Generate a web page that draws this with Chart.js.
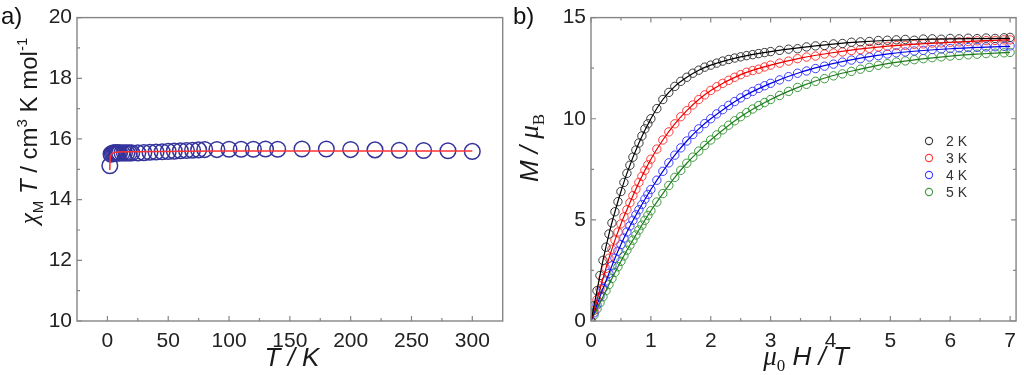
<!DOCTYPE html>
<html>
<head>
<meta charset="utf-8">
<script src="https://cdn.jsdelivr.net/npm/chart.js@4.4.1/dist/chart.umd.min.js"></script>
<style>
  html, body { margin: 0; padding: 0; background: #fff; }
  #wrap { position: relative; width: 1024px; height: 375px; }
  .panel { position: absolute; top: 0; width: 512px; height: 375px; }
</style>
</head>
<body>
<div id="wrap">
  <div class="panel" style="left:0"><canvas id="chartA" width="512" height="375"></canvas></div>
  <div class="panel" style="left:512px"><canvas id="chartB" width="512" height="375"></canvas></div>
</div>
<script>
// ---- panel a) : chiM*T vs T ----
const tempT = [2, 3, 4, 5, 6, 7, 8, 9, 10, 12, 14, 16, 18, 20, 25, 30, 35, 40, 45, 50, 55, 60, 65, 70, 75, 80,
  90, 100, 110, 120, 130, 140, 160, 180, 200, 220, 240, 260, 280, 300];
const chiT = [15.12, 15.50, 15.53, 15.54, 15.54, 15.54, 15.54, 15.54, 15.54, 15.54, 15.54, 15.54, 15.54, 15.54, 15.54, 15.55, 15.56, 15.57, 15.58, 15.59, 15.60, 15.61, 15.62, 15.63, 15.64, 15.65,
  15.65, 15.66, 15.66, 15.66, 15.67, 15.66, 15.67, 15.67, 15.65, 15.64, 15.63, 15.62, 15.61, 15.59];
const fitT = [2, 2.1, 2.3, 2.6, 3, 4, 5, 7, 10, 20, 50, 100, 150, 200, 250, 300];
const fitChi = [14.98, 15.2, 15.35, 15.43, 15.48, 15.52, 15.54, 15.56, 15.57, 15.58, 15.59, 15.6, 15.6, 15.6, 15.6, 15.6];
const xTicksA = [0, 50, 100, 150, 200, 250, 300];
const yTicksA = [10, 12, 14, 16, 18, 20];

// ---- panel b) : M vs mu0 H ----
const fieldH = [0, 0.05, 0.1, 0.15, 0.2, 0.25, 0.3, 0.35, 0.4, 0.45, 0.5, 0.55, 0.6, 0.65, 0.7, 0.75, 0.8, 0.85, 0.9, 0.95, 1.0,
  1.1, 1.2, 1.3, 1.4, 1.5, 1.6, 1.7, 1.8, 1.9, 2.0, 2.1, 2.2, 2.3, 2.4, 2.5, 2.6, 2.7, 2.8, 2.9, 3.0,
  3.15, 3.3, 3.45, 3.6, 3.75, 3.9, 4.05, 4.2, 4.35, 4.5, 4.65, 4.8, 4.95, 5.1, 5.25, 5.4, 5.55, 5.7, 5.85, 6.0,
  6.15, 6.3, 6.45, 6.6, 6.75, 6.9, 7.0];
const m2K = [0, 0.75, 1.5, 2.25, 3.0, 3.65, 4.3, 4.85, 5.4, 5.9, 6.4, 6.85, 7.3, 7.7, 8.1, 8.45, 8.8, 9.15, 9.5, 9.75, 10.0,
  10.5, 10.95, 11.3, 11.6, 11.85, 12.05, 12.25, 12.4, 12.55, 12.65, 12.75, 12.85, 12.93, 13.0, 13.06, 13.12, 13.17, 13.22, 13.27, 13.32,
  13.38, 13.44, 13.46, 13.55, 13.6, 13.62, 13.7, 13.72, 13.78, 13.8, 13.82, 13.87, 13.88, 13.9, 13.92, 13.88, 13.94, 13.95, 13.93, 13.97,
  13.95, 13.98, 13.96, 13.99, 13.97, 14.0, 14.02];
const m3K = [0, 0.52, 1.05, 1.58, 2.1, 2.6, 3.1, 3.55, 4.0, 4.4, 4.8, 5.15, 5.5, 5.85, 6.2, 6.52, 6.85, 7.15, 7.45, 7.72, 8.0,
  8.5, 8.95, 9.35, 9.75, 10.1, 10.4, 10.68, 10.95, 11.18, 11.4, 11.58, 11.75, 11.9, 12.05, 12.18, 12.3, 12.38, 12.45, 12.56, 12.65,
  12.75, 12.85, 12.97, 13.05, 13.1, 13.2, 13.25, 13.3, 13.37, 13.42, 13.48, 13.55, 13.58, 13.62, 13.63, 13.68, 13.7, 13.74, 13.75, 13.78,
  13.8, 13.82, 13.85, 13.86, 13.87, 13.9, 13.9];
const m4K = [0, 0.4, 0.8, 1.2, 1.6, 1.98, 2.35, 2.73, 3.1, 3.45, 3.78, 4.1, 4.4, 4.7, 4.98, 5.25, 5.5, 5.76, 6.02, 6.26, 6.5,
  6.96, 7.4, 7.82, 8.2, 8.56, 8.9, 9.22, 9.5, 9.76, 10.0, 10.24, 10.45, 10.66, 10.85, 11.03, 11.2, 11.35, 11.5, 11.63, 11.75,
  11.92, 12.08, 12.25, 12.36, 12.48, 12.6, 12.7, 12.8, 12.9, 12.97, 13.05, 13.12, 13.2, 13.26, 13.3, 13.35, 13.38, 13.42, 13.45, 13.47,
  13.5, 13.52, 13.53, 13.55, 13.56, 13.58, 13.6];
const m5K = [0, 0.3, 0.6, 0.9, 1.2, 1.5, 1.8, 2.1, 2.4, 2.68, 2.95, 3.22, 3.5, 3.75, 4.0, 4.25, 4.5, 4.74, 4.98, 5.22, 5.45,
  5.88, 6.3, 6.7, 7.1, 7.45, 7.8, 8.1, 8.4, 8.68, 8.95, 9.2, 9.45, 9.68, 9.9, 10.1, 10.3, 10.48, 10.65, 10.8, 10.95,
  11.15, 11.35, 11.55, 11.7, 11.85, 11.98, 12.12, 12.22, 12.34, 12.45, 12.54, 12.64, 12.72, 12.8, 12.86, 12.92, 12.97, 13.02, 13.06, 13.1,
  13.13, 13.16, 13.19, 13.22, 13.24, 13.26, 13.28];
const fitH = [0, 0.1, 0.2, 0.3, 0.4, 0.5, 0.6, 0.8, 1.0, 1.2, 1.4, 1.6, 1.8, 2.0, 2.5, 3.0, 3.5, 4.0, 4.5, 5.0, 5.5, 6.0, 6.5, 7.0];
const fit2K = [0, 1.5, 3.0, 4.3, 5.4, 6.4, 7.3, 8.8, 10.0, 10.95, 11.6, 12.05, 12.4, 12.65, 13.06, 13.32, 13.52, 13.68, 13.8, 13.88, 13.92, 13.95, 13.96, 13.97];
const fit3K = [0, 1.05, 2.1, 3.1, 4.0, 4.8, 5.5, 6.85, 8.0, 8.95, 9.75, 10.4, 10.95, 11.4, 12.18, 12.65, 13.0, 13.25, 13.45, 13.6, 13.7, 13.78, 13.85, 13.9];
const fit4K = [0, 0.8, 1.6, 2.35, 3.1, 3.78, 4.4, 5.5, 6.5, 7.4, 8.2, 8.9, 9.5, 10.0, 11.03, 11.75, 12.3, 12.7, 13.0, 13.22, 13.36, 13.46, 13.53, 13.58];
const fit5K = [0, 0.6, 1.2, 1.8, 2.4, 2.95, 3.5, 4.5, 5.45, 6.3, 7.1, 7.8, 8.4, 8.95, 10.1, 10.95, 11.6, 12.1, 12.45, 12.75, 12.95, 13.1, 13.2, 13.28];
const seriesLabels = ['2 K', '3 K', '4 K', '5 K'];
const xTicksB = [0, 1, 2, 3, 4, 5, 6, 7];
const yTicksB = [0, 5, 10, 15];

const pointColors = ['#3a3a3a', '#ff3c3c', '#4040ff', '#3f9a3f'];
const lineColors = ['#000000', '#e80000', '#0000e0', '#1d7a1d'];

const tickFont = { family: 'Liberation Sans', size: 21 };
const sans = '"Liberation Sans", Arial, sans-serif';
const serif = '"Liberation Serif", "Times New Roman", serif';

function pts(xs, ys) { return xs.map((v, i) => ({ x: v, y: ys[i] })); }

// frame box with inward ticks (major + minor) taken from the scales
function frameTicks(mirror) {
  return {
    id: 'frameTicks',
    afterDraw(chart) {
      const { ctx, chartArea: a, scales } = chart;
      const xv = scales.x.ticks.map(t => t.value);
      const yv = scales.y.ticks.map(t => t.value);
      const mids = v => v.slice(1).map((w, i) => (w + v[i]) / 2);
      ctx.save();
      ctx.strokeStyle = '#858585';
      ctx.lineWidth = 1.4;
      ctx.strokeRect(a.left, a.top, a.right - a.left, a.bottom - a.top);
      ctx.lineWidth = 1.2;
      ctx.beginPath();
      const xMark = (vals, len) => vals.forEach(v => {
        const px = scales.x.getPixelForValue(v);
        ctx.moveTo(px, a.bottom); ctx.lineTo(px, a.bottom - len);
        if (mirror) { ctx.moveTo(px, a.top); ctx.lineTo(px, a.top + len); }
      });
      const yMark = (vals, len) => vals.forEach(v => {
        const py = scales.y.getPixelForValue(v);
        ctx.moveTo(a.left, py); ctx.lineTo(a.left + len, py);
        if (mirror) { ctx.moveTo(a.right, py); ctx.lineTo(a.right - len, py); }
      });
      xMark(xv, 5); xMark(mids(xv), 3);
      yMark(yv, 5); yMark(mids(yv), 3);
      ctx.stroke();
      ctx.restore();
    }
  };
}

function drawRich(ctx, parts, cx, cy, rot) {
  ctx.save();
  ctx.translate(cx, cy);
  ctx.rotate(rot);
  ctx.fillStyle = '#1a1a1a';
  ctx.textBaseline = 'alphabetic';
  ctx.textAlign = 'left';
  let w = 0;
  parts.forEach(p => { ctx.font = p.font; w += ctx.measureText(p.t).width; });
  let x = -w / 2;
  parts.forEach(p => {
    ctx.font = p.font;
    ctx.fillText(p.t, x, p.dy || 0);
    x += ctx.measureText(p.t).width;
  });
  ctx.restore();
}

function decor(cfg) {
  return {
    id: 'decor',
    afterDraw(chart) {
      const ctx = chart.ctx;
      ctx.save();
      ctx.fillStyle = '#111';
      ctx.font = '24px ' + sans;
      ctx.textBaseline = 'alphabetic';
      ctx.fillText(cfg.label, cfg.labelX, 24);
      ctx.restore();
      drawRich(ctx, cfg.xTitle, cfg.xTitlePos[0], cfg.xTitlePos[1], 0);
      drawRich(ctx, cfg.yTitle, cfg.yTitlePos[0], cfg.yTitlePos[1], -Math.PI / 2);
      if (cfg.legend) {
        const l = cfg.legend;
        chart.data.datasets.filter(d => d.showInKey).forEach((d, i) => {
          const y = l.y + i * l.gap;
          ctx.save();
          ctx.strokeStyle = d.pointBorderColor;
          ctx.lineWidth = 1.1;
          ctx.beginPath();
          ctx.arc(l.x, y, 3.6, 0, Math.PI * 2);
          ctx.stroke();
          ctx.fillStyle = '#333';
          ctx.font = '14px ' + sans;
          ctx.textBaseline = 'middle';
          ctx.fillText(d.label, l.x + 17, y + 1);
          ctx.restore();
        });
      }
    }
  };
}

function axis(min, max, tickList, size, isX) {
  return {
    type: 'linear', min: min, max: max,
    afterBuildTicks: s => { s.ticks = tickList.map(v => ({ value: v })); },
    afterFit: s => { if (isX) s.height = size; else s.width = size; },
    grid: { display: false, drawTicks: false },
    border: { display: false },
    ticks: { font: tickFont, color: '#222', padding: isX ? 8 : 5 }
  };
}

new Chart(document.getElementById('chartA'), {
  type: 'scatter',
  data: {
    datasets: [
      { type: 'line', label: 'fit', data: pts(fitT, fitChi), borderColor: '#ff3030', borderWidth: 1.5,
        pointRadius: 0, cubicInterpolationMode: 'monotone', order: 0 },
      { label: 'data', data: pts(tempT, chiT), pointRadius: 7.8, pointBorderWidth: 1.5,
        pointBorderColor: '#34349c', pointBackgroundColor: 'rgba(255,255,255,0)', order: 1 }
    ]
  },
  options: {
    responsive: false, animation: false,
    layout: { padding: { left: 0, right: 3, top: 15, bottom: 0 } },
    plugins: { legend: { display: false }, tooltip: { enabled: false } },
    scales: { x: axis(-25, 325, xTicksA, 54, true), y: axis(10, 20, yTicksA, 77, false) }
  },
  plugins: [frameTicks(false), decor({
    label: 'a)', labelX: 1,
    xTitle: [{ t: 'T / K', font: 'italic 26px ' + sans }],
    xTitlePos: [292, 366],
    yTitle: [
      { t: 'χ', font: 'italic 25px ' + serif },
      { t: 'M', font: '15px ' + sans, dy: 6 },
      { t: ' T', font: 'italic 24px ' + sans },
      { t: ' / cm', font: '24px ' + sans },
      { t: '3', font: '15px ' + sans, dy: -10 },
      { t: ' K mol', font: '24px ' + sans },
      { t: '-1', font: '15px ' + sans, dy: -10 }
    ],
    yTitlePos: [37, 131]
  })]
});

const dsB = [];
[m2K, m3K, m4K, m5K].forEach((m, i) => {
  dsB.push({ label: seriesLabels[i], showInKey: true, data: pts(fieldH, m), pointRadius: 4.2, pointBorderWidth: 1,
    pointBorderColor: pointColors[i], pointBackgroundColor: 'rgba(255,255,255,0)', order: 1 });
});
[fit2K, fit3K, fit4K, fit5K].forEach((m, i) => {
  dsB.push({ type: 'line', label: 'fit ' + seriesLabels[i], data: pts(fitH, m), borderColor: lineColors[i],
    borderWidth: 1.2, pointRadius: 0, cubicInterpolationMode: 'monotone', order: 0 });
});

new Chart(document.getElementById('chartB'), {
  type: 'scatter',
  data: { datasets: dsB },
  options: {
    responsive: false, animation: false,
    layout: { padding: { left: 0, right: 2, top: 15, bottom: 0 } },
    plugins: { legend: { display: false }, tooltip: { enabled: false } },
    scales: { x: axis(0, 7.1, xTicksB, 54, true), y: axis(0, 15, yTicksB, 79, false) }
  },
  plugins: [frameTicks(true), decor({
    label: 'b)', labelX: 1,
    xTitle: [
      { t: 'μ', font: 'italic 27px ' + serif },
      { t: '0', font: '17px ' + serif, dy: 6 },
      { t: ' H / T', font: 'italic 26px ' + sans }
    ],
    xTitlePos: [294, 365],
    yTitle: [
      { t: 'M / ', font: 'italic 26px ' + sans },
      { t: 'μ', font: 'italic 27px ' + serif },
      { t: 'B', font: '17px ' + serif, dy: 6 }
    ],
    yTitlePos: [26, 148],
    legend: { x: 417, y: 141, gap: 17 }
  })]
});
</script>
</body>
</html>
